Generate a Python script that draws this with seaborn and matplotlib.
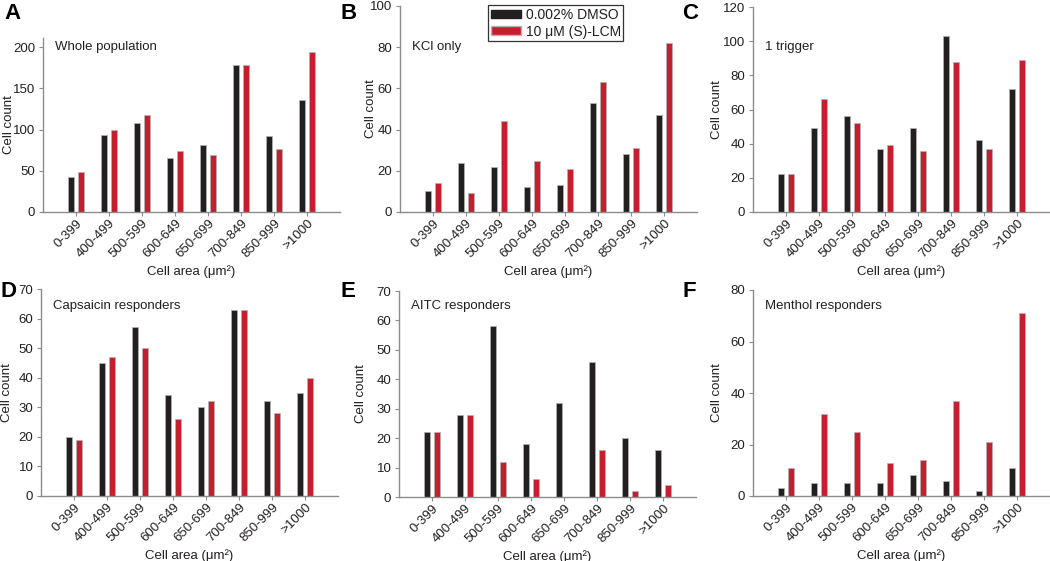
import matplotlib
matplotlib.use("Agg")
import matplotlib.pyplot as plt
import seaborn as sns
import pandas as pd
from matplotlib.patches import Patch

categories = ["0-399", "400-499", "500-599", "600-649", "650-699", "700-849", "850-999", ">1000"]
treatments = ["0.002% DMSO", "10 μM (S)-LCM"]

whole_dmso = [42, 93, 108, 66, 81, 178, 92, 136]
whole_lcm = [49, 99, 118, 74, 69, 178, 77, 194]
kcl_dmso = [10, 24, 22, 12, 13, 53, 28, 47]
kcl_lcm = [14, 9, 44, 25, 21, 63, 31, 82]
trig_dmso = [22, 49, 56, 37, 49, 103, 42, 72]
trig_lcm = [22, 66, 52, 39, 36, 88, 37, 89]
caps_dmso = [20, 45, 57, 34, 30, 63, 32, 35]
caps_lcm = [19, 47, 50, 26, 32, 63, 28, 40]
aitc_dmso = [22, 28, 58, 18, 32, 46, 20, 16]
aitc_lcm = [22, 28, 12, 6, 0, 16, 2, 4]
ment_dmso = [3, 5, 5, 5, 8, 6, 2, 11]
ment_lcm = [11, 32, 25, 13, 14, 37, 21, 71]

titles = ["Whole population", "KCl only", "1 trigger",
          "Capsaicin responders", "AITC responders", "Menthol responders"]
letters = ["A", "B", "C", "D", "E", "F"]
series = [(whole_dmso, whole_lcm), (kcl_dmso, kcl_lcm), (trig_dmso, trig_lcm),
          (caps_dmso, caps_lcm), (aitc_dmso, aitc_lcm), (ment_dmso, ment_lcm)]
ylims = [211, 100, 120, 70, 70, 80]
ysteps = [50, 20, 20, 10, 10, 20]

BLACK = "#231f20"
RED = "#c41e2f"
SPINE = "#8c8c8c"
TXT = "#231f20"
EDGE = "#b4b4b4"

sns.set_theme(style="ticks")
plt.rcParams["font.family"] = ["Liberation Sans", "DejaVu Sans"]
plt.rcParams["text.color"] = TXT
plt.rcParams["axes.labelcolor"] = TXT
plt.rcParams["xtick.color"] = SPINE
plt.rcParams["ytick.color"] = SPINE
plt.rcParams["xtick.labelcolor"] = TXT
plt.rcParams["ytick.labelcolor"] = TXT

W, H = 1050, 561
fig = plt.figure(figsize=(W / 100, H / 100), dpi=100)

# axes boxes in pixels: left, right, top, bottom
boxes = [(43, 340, 38, 212), (400, 697, 6, 212), (753, 1050, 7, 212),
         (41, 338, 289, 496), (399, 696, 291, 497), (753, 1050, 290, 496)]
ylabel_off = [28, 23, 30.5, 28, 31.5, 30.5]
letter_pos = [(4, 3), (341, 3), (682, 3), (0, 281), (341, 281), (682, 281)]

for i in range(6):
    l, r, t, b = boxes[i]
    ax = fig.add_axes([l / W, 1 - b / H, (r - l) / W, (b - t) / H])
    d, c = series[i]
    df = pd.DataFrame({
        "Cell area": categories * 2,
        "Count": list(d) + list(c),
        "Treatment": [treatments[0]] * len(d) + [treatments[1]] * len(c),
    })
    sns.barplot(data=df, x="Cell area", y="Count", hue="Treatment",
                order=categories, hue_order=treatments,
                palette=[BLACK, RED], saturation=1, width=0.6, gap=1 / 3,
                edgecolor=EDGE, linewidth=0.5, legend=False, ax=ax)
    ax.set_xlim(-1, 8)
    ax.set_ylim(0, ylims[i])
    top = ylims[i] - ylims[i] % ysteps[i]
    ax.set_yticks(list(range(0, top + 1, ysteps[i])))
    ax.set_facecolor("white")
    for s in ["top", "right"]:
        ax.spines[s].set_visible(False)
    for s in ["left", "bottom"]:
        ax.spines[s].set_color(SPINE)
        ax.spines[s].set_linewidth(1.0)
    ax.tick_params(axis="y", length=3, width=0.8, labelsize=9.5, pad=2.5)
    ax.tick_params(axis="x", length=3, width=0.8, labelsize=9.5, pad=1)
    plt.setp(ax.get_xticklabels(), rotation=45, ha="right", rotation_mode="anchor")
    ax.set_xlabel("Cell area (μm²)", fontsize=9.5, labelpad=3)
    ax.set_ylabel("Cell count", fontsize=9.5)
    ax.yaxis.set_label_coords(-ylabel_off[i] / (r - l), 0.5)
    ty = 47 if i < 3 else 306
    fig.text((l + 12) / W, 1 - ty / H, titles[i], fontsize=9.5, va="center", ha="left")
    lx, ly = letter_pos[i]
    fig.text(lx / W, 1 - ly / H, letters[i], fontsize=16, fontweight="bold",
             va="top", ha="left", color="black")

handles = [Patch(facecolor=BLACK, edgecolor=BLACK), Patch(facecolor=RED, edgecolor=EDGE)]
leg = fig.legend(handles, treatments, loc="upper left",
                 bbox_to_anchor=(488 / W, 1 - 5 / H), frameon=True, fancybox=False,
                 fontsize=10, handlelength=2.2, handleheight=0.55, handletextpad=0.3,
                 borderpad=0.2, labelspacing=0.2, borderaxespad=0)
leg.get_frame().set_edgecolor("black")
leg.get_frame().set_linewidth(0.9)

fig.savefig("out.png", dpi=100, facecolor="white")
